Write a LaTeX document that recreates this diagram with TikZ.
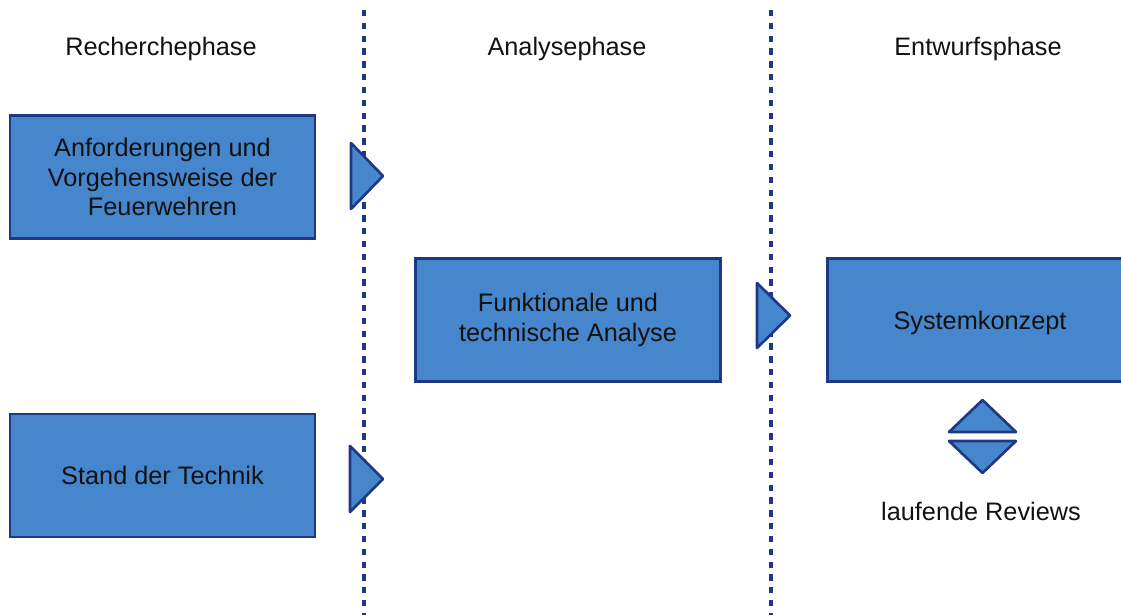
\documentclass[tikz,border=0pt]{standalone}
\usepackage{fontspec}
\setmainfont{Liberation Sans}
\usepackage{tikz}
\usetikzlibrary{positioning,calc}
\definecolor{BoxFill}{RGB}{69,134,204}
\definecolor{BoxLine}{RGB}{31,56,134}
\definecolor{TextDark}{RGB}{17,17,17}
\tikzset{
  phasebox/.style={rectangle, draw=BoxLine, fill=BoxFill, line width=1.5pt,
    minimum width=6.1cm, minimum height=2.46cm, align=center, text=TextDark,
    inner sep=2pt},
  phasetitle/.style={text=TextDark},
  phasesep/.style={draw=BoxLine, line width=1.8pt, dash pattern=on 3.6pt off 3.7pt},
  marker/.style={draw=BoxLine, fill=BoxFill, line width=1.5pt, line join=round},
}

\begin{document}
\begin{tikzpicture}[x=0.02cm, y=-0.02cm,
    every node/.style={font=\fontsize{14.4pt}{17pt}\selectfont}]
      \useasboundingbox (0,0) rectangle (1121,615);

      % phase titles
      \node[phasetitle] (t1) at (161,48.5) {Recherchephase};
      \node[phasetitle] (t2) at (567,48.5) {Analysephase};
      \node[phasetitle] (t3) at (978,48.5) {Entwurfsphase};

      % separators
      \coordinate (s1top) at (364,10);
      \coordinate (s1bot) at (364,615);
      \coordinate (s2top) at (771,10);
      \coordinate (s2bot) at (771,615);
      \draw[phasesep] (s1top) -- (s1bot);
      \draw[phasesep] (s2top) -- (s2bot);

      % boxes
      \node[phasebox] (anf) at (162.5,177) {Anforderungen und\\Vorgehensweise der\\Feuerwehren};
      \node[phasebox] (sdt) at (162.5,475.5) {Stand der Technik};
      \node[phasebox] (fta) at (568,320) {Funktionale und\\technische Analyse};
      \node[phasebox, text depth=0pt] (sys) at (980,320) {Systemkonzept};

      % markers
      \draw[marker] (351,143) -- (383,176) -- (351,209) -- cycle;
      \draw[marker] (350,446) -- (383,479) -- (350,512) -- cycle;
      \draw[marker] (757,283) -- (790,315.5) -- (757,348) -- cycle;
      \draw[marker] (949,432) -- (982.5,400) -- (1016,432) -- cycle;
      \draw[marker] (949,441) -- (1016,441) -- (982.5,473) -- cycle;

      \node[phasetitle] (rev) at (981,511) {laufende Reviews};
    \end{tikzpicture}
\end{document}
